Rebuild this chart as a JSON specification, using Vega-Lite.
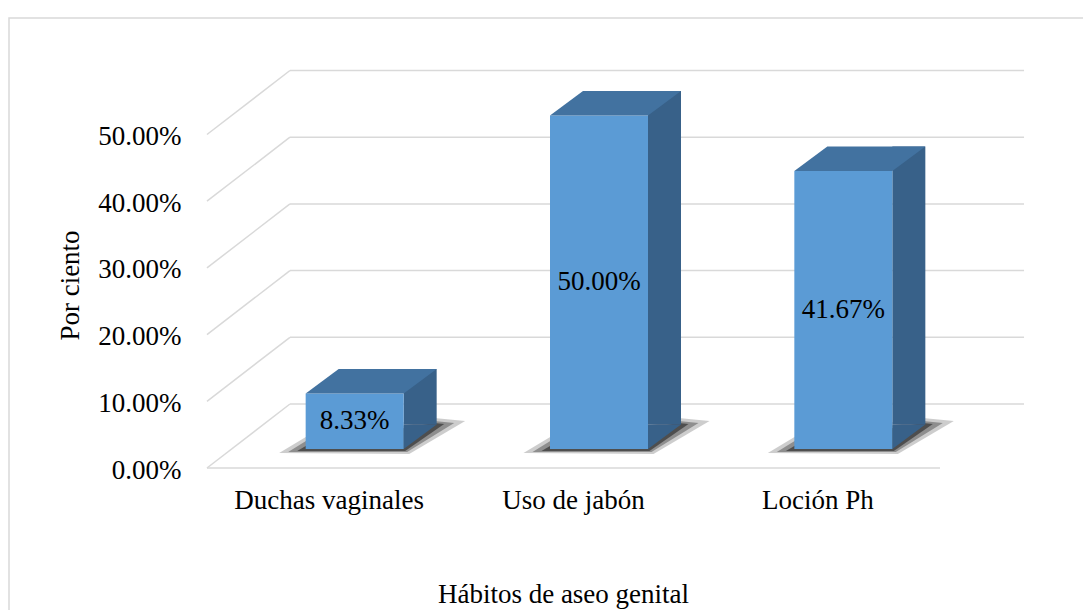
{
  "$schema": "https://vega.github.io/schema/vega-lite/v6.json",
  "width": 1094,
  "height": 612,
  "autosize": {"type": "none"},
  "padding": {"left": 9, "top": 18, "right": -20, "bottom": -20},
  "background": "white",
  "view": {"stroke": "#d9d9d9", "strokeWidth": 1.5},
  "config": {"font": "Liberation Serif"},
  "datasets": {
    "bars": [
      {"cat": "Duchas vaginales", "value": 0.0833},
      {"cat": "Uso de jabón", "value": 0.5},
      {"cat": "Loción Ph", "value": 0.4167}
    ],
    "ticks": [{"t": 0}, {"t": 0.1}, {"t": 0.2}, {"t": 0.3}, {"t": 0.4}, {"t": 0.5}]
  },
  "layer": [
    {
      "layer": [
        {
          "data": {"name": "ticks"},
          "mark": {"type": "rule", "color": "#d9d9d9", "strokeWidth": 1.5, "xOffset": -39.2, "x2Offset": 206.2, "yOffset": -64},
          "encoding": {
            "x": {"datum": "Duchas vaginales", "type": "nominal"},
            "x2": {"datum": "Loción Ph"},
            "y": {
              "field": "t", "type": "quantitative",
              "scale": {"domain": [0, 0.5], "range": [450, 116.5], "nice": false, "zero": false},
              "axis": {
                "values": [0, 0.1, 0.2, 0.3, 0.4, 0.5],
                "format": ".2%",
                "offset": -198,
                "domain": false, "ticks": false, "grid": false,
                "labelPadding": 26, "labelOffset": 2,
                "labelFont": "Liberation Serif", "labelFontSize": 27, "labelColor": "#000000",
                "title": "Por ciento",
                "titleFont": "Liberation Serif", "titleFontSize": 27, "titleFontWeight": "normal", "titleColor": "#000000",
                "titleAngle": -90, "titleAlign": "center", "titleBaseline": "alphabetic",
                "titleX": -129, "titleY": 267
              }
            }
          }
        },
        {
          "data": {"name": "ticks"},
          "mark": {"type": "rule", "color": "#d9d9d9", "strokeWidth": 1.5, "xOffset": -122.2, "x2Offset": -39.2, "y2Offset": -64},
          "encoding": {
            "x": {"datum": "Duchas vaginales", "type": "nominal"},
            "x2": {"datum": "Duchas vaginales"},
            "y": {"field": "t", "type": "quantitative"},
            "y2": {"field": "t"}
          }
        },
        {
          "data": {"name": "ticks"},
          "transform": [{"filter": "datum.t == 0"}],
          "mark": {"type": "rule", "color": "#d9d9d9", "strokeWidth": 1.5, "xOffset": -122.2, "x2Offset": 122.2},
          "encoding": {
            "x": {"datum": "Duchas vaginales", "type": "nominal"},
            "x2": {"datum": "Loción Ph"},
            "y": {"field": "t", "type": "quantitative"}
          }
        },
        {
          "data": {"name": "bars"},
          "mark": {"type": "point", "filled": true, "size": 4, "opacity": 0.22, "strokeWidth": 0, "color": "#1a1a1a",
                   "shape": "M -50 -15 L 80 -14 L 136 -47 L 105 -50 L -20 -33 Z"},
          "encoding": {
            "x": {"field": "cat", "type": "nominal", "sort": null},
            "y": {"datum": 0, "type": "quantitative"}
          }
        },
        {
          "data": {"name": "bars"},
          "mark": {"type": "point", "filled": true, "size": 4, "opacity": 0.35, "strokeWidth": 0, "color": "#1a1a1a",
                   "shape": "M -41 -16 L 78 -16 L 125 -45 L 105 -47 L -20 -29 Z"},
          "encoding": {
            "x": {"field": "cat", "type": "nominal", "sort": null},
            "y": {"datum": 0, "type": "quantitative"}
          }
        },
        {
          "data": {"name": "bars"},
          "mark": {"type": "point", "filled": true, "size": 4, "opacity": 0.55, "strokeWidth": 0, "color": "#1a1a1a",
                   "shape": "M -32 -17 L 76 -17 L 115 -44 L 105 -45 L -20 -24 Z"},
          "encoding": {
            "x": {"field": "cat", "type": "nominal", "sort": null},
            "y": {"datum": 0, "type": "quantitative"}
          }
        },
        {
          "data": {"name": "bars"},
          "mark": {"type": "bar", "color": "#386189", "width": 33, "xOffset": 91, "yOffset": -43.5, "y2Offset": -43.5},
          "encoding": {
            "x": {"field": "cat", "type": "nominal", "sort": null},
            "y": {"field": "value", "type": "quantitative"},
            "y2": {"datum": 0}
          }
        },
        {
          "data": {"name": "bars"},
          "mark": {"type": "point", "filled": true, "size": 4, "opacity": 1, "strokeWidth": 0, "color": "#386189",
                   "shape": "M 74.5 -43.5 L 107.5 -43.5 L 74.5 -19 Z"},
          "encoding": {
            "x": {"field": "cat", "type": "nominal", "sort": null},
            "y": {"datum": 0, "type": "quantitative"}
          }
        },
        {
          "data": {"name": "bars"},
          "mark": {"type": "bar", "color": "#5b9bd5", "width": 98, "xOffset": 25.5, "yOffset": -19, "y2Offset": -19},
          "encoding": {
            "x": {
              "field": "cat", "type": "nominal", "sort": null,
              "scale": {"domain": ["Duchas vaginales", "Uso de jabón", "Loción Ph"], "range": [198, 931], "paddingInner": 0, "paddingOuter": 0},
              "axis": {
                "orient": "bottom", "offset": -162,
                "domain": false, "ticks": false, "grid": false,
                "labelAngle": 0, "labelAlign": "center", "labelBaseline": "top",
                "labelPadding": 19, "labelLimit": 0,
                "labelFont": "Liberation Serif", "labelFontSize": 27, "labelColor": "#000000",
                "title": "Hábitos de aseo genital",
                "titleFont": "Liberation Serif", "titleFontSize": 27, "titleFontWeight": "normal", "titleColor": "#000000",
                "titleAlign": "center", "titleBaseline": "alphabetic",
                "titleX": 554, "titleY": 134
              }
            },
            "y": {"field": "value", "type": "quantitative"},
            "y2": {"datum": 0}
          }
        },
        {
          "data": {"name": "bars"},
          "mark": {"type": "point", "filled": true, "size": 4, "opacity": 1, "strokeWidth": 0, "color": "#4272a0",
                   "shape": "M -23.5 -19 L 74.5 -19 L 107.5 -43.5 L 9.5 -43.5 Z"},
          "encoding": {
            "x": {"field": "cat", "type": "nominal", "sort": null},
            "y": {"field": "value", "type": "quantitative"}
          }
        }
      ]
    },
    {
      "data": {"name": "bars"},
      "mark": {"type": "text", "font": "Liberation Serif", "fontSize": 27, "color": "#000000", "xOffset": 25.5, "yOffset": -19, "baseline": "middle"},
      "encoding": {
        "x": {"field": "cat", "type": "nominal", "sort": null},
        "y": {"field": "value", "type": "quantitative", "scale": {"domain": [0, 1], "range": [450, 116.5], "nice": false, "zero": false}, "axis": null},
        "text": {"field": "value", "type": "quantitative", "format": ".2%"}
      }
    }
  ],
  "resolve": {"scale": {"y": "independent"}}
}
